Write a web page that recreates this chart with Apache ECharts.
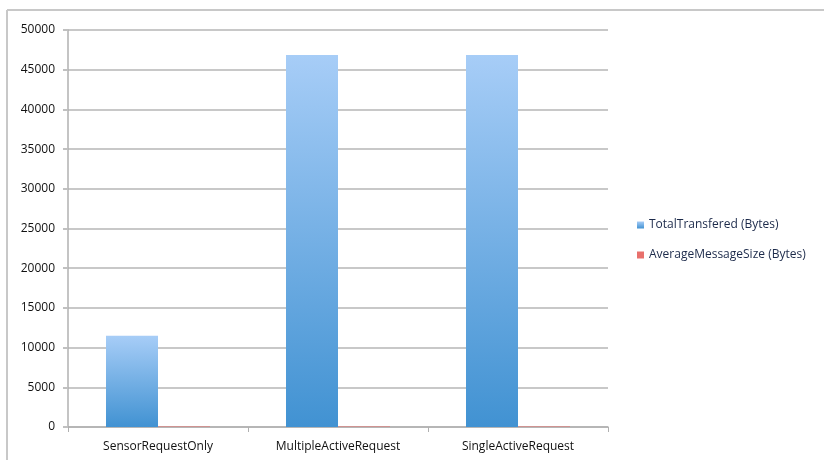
<!DOCTYPE html>
<html>
<head>
<meta charset="utf-8">
<script src="https://cdn.jsdelivr.net/npm/echarts@6/dist/echarts.min.js"></script>
<style>
  html, body { margin: 0; padding: 0; background: #fff; }
  #chart { width: 824px; height: 460px; }
</style>
</head>
<body>
<div id="chart"></div>
<script>
// 分类与数据
var categories = ['SensorRequestOnly', 'MultipleActiveRequest', 'SingleActiveRequest'];
var totalTransfered = [11500, 46850, 46850];
var averageMessageSize = [70, 70, 70];
var yTicks = [0, 5000, 10000, 15000, 20000, 25000, 30000, 35000, 40000, 45000, 50000];

var chart = echarts.init(document.getElementById('chart'));
var option = {
    animation: false,
    textStyle: { fontFamily: 'Open Sans, Lato, sans-serif' },
    grid: { left: 68, top: 30, width: 540, height: 397 },
    legend: {
        orient: 'vertical',
        left: 632,
        top: 214,
        itemWidth: 7,
        itemHeight: 7,
        itemGap: 18,
        icon: 'rect',
        textStyle: { color: '#1c2a4a', fontSize: 12 },
        data: ['TotalTransfered (Bytes)', 'AverageMessageSize (Bytes)']
    },
    graphic: [
        { type: 'line', shape: { x1: 7, y1: 10, x2: 824, y2: 10 }, style: { stroke: '#c8c8c8', lineWidth: 2 } },
        { type: 'line', shape: { x1: 7, y1: 10, x2: 7, y2: 460 }, style: { stroke: '#c8c8c8', lineWidth: 2 } }
    ],
    xAxis: {
        type: 'category',
        data: categories,
        axisLine: { lineStyle: { color: '#b0b0b0', width: 1.5 } },
        axisTick: { show: true, length: 5, lineStyle: { color: '#b0b0b0' } },
        axisLabel: { color: '#111', fontSize: 12, margin: 14 }
    },
    yAxis: {
        type: 'value',
        min: yTicks[0],
        max: yTicks[yTicks.length - 1],
        interval: 5000,
        axisLine: { show: true, lineStyle: { color: '#b0b0b0', width: 1.5 } },
        axisTick: { show: true, length: 5, lineStyle: { color: '#c0c0c0', width: 2 } },
        axisLabel: {
            color: '#111', fontSize: 12, margin: 13,
            formatter: function (v) { return String(v); }
        },
        splitLine: { lineStyle: { color: '#c8c8c8', width: 2 } }
    },
    series: [{
        name: 'TotalTransfered (Bytes)',
        type: 'bar',
        barWidth: 52,
        barGap: '0%',
        itemStyle: {
            color: new echarts.graphic.LinearGradient(0, 0, 0, 1, [
                { offset: 0, color: '#a7cdf7' },
                { offset: 1, color: '#4192d2' }
            ])
        },
        data: totalTransfered
    }, {
        name: 'AverageMessageSize (Bytes)',
        type: 'bar',
        barWidth: 52,
        barGap: '0%',
        itemStyle: { color: '#e8706c' },
        data: averageMessageSize
    }]
};
chart.setOption(option);
</script>
</body>
</html>
